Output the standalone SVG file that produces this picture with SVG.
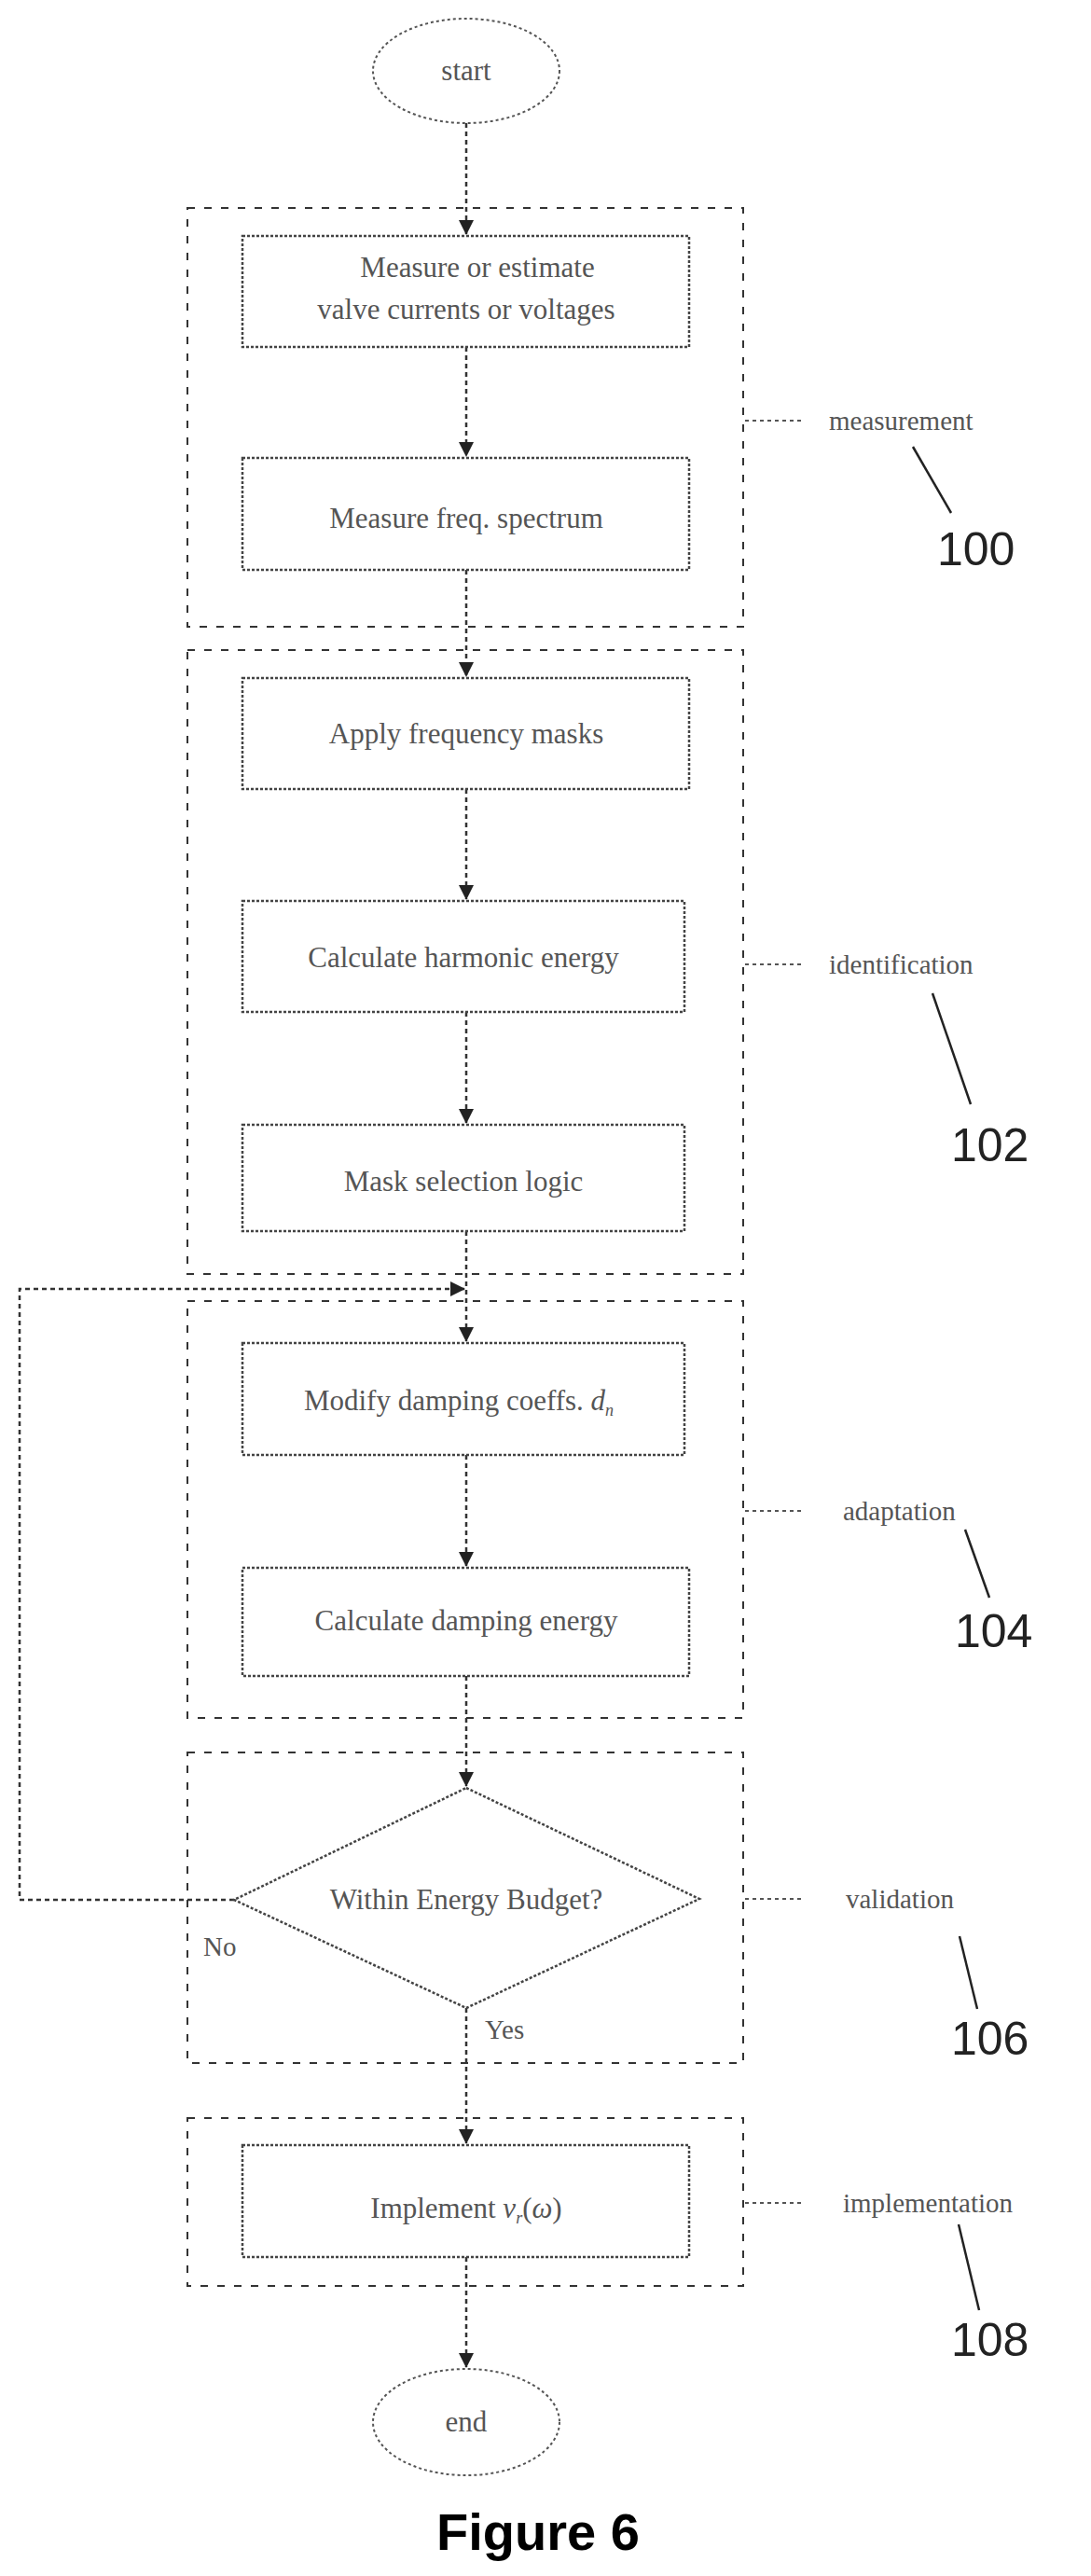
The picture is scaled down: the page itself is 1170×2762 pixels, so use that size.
<svg xmlns="http://www.w3.org/2000/svg" width="1170" height="2762" viewBox="0 0 1170 2762">
<style>
.grp{fill:none;stroke:#333;stroke-width:2;stroke-dasharray:8 10}
.box{fill:#fff;stroke:#444;stroke-width:2.5;stroke-dasharray:3 2}
.ell{fill:#fff;stroke:#555;stroke-width:2;stroke-dasharray:3 3}
.con{fill:none;stroke:#333;stroke-width:2.5;stroke-dasharray:5 4}
.t{font-family:"Liberation Serif",serif;font-size:31px;fill:#555;text-anchor:middle}
.lab{font-family:"Liberation Serif",serif;font-size:29px;fill:#555}
.num{font-family:"Liberation Sans",sans-serif;font-size:50px;fill:#222}
.lead{fill:none;stroke:#222;stroke-width:2.5}
.dot{fill:none;stroke:#555;stroke-width:2;stroke-dasharray:4 4}
</style>
<defs><marker id="ah" markerWidth="10" markerHeight="10" refX="9" refY="5" orient="auto" markerUnits="userSpaceOnUse"><path d="M0,0 L10,5 L0,10 z" fill="#222"/></marker>
<marker id="ahb" markerWidth="16" markerHeight="16" refX="15" refY="8" orient="auto" markerUnits="userSpaceOnUse"><path d="M0,0 L16,8 L0,16 z" fill="#222"/></marker></defs>
<g id="groups">
<rect class="grp" x="201" y="223" width="596" height="449"/>
<rect class="grp" x="201" y="697" width="596" height="669"/>
<rect class="grp" x="201" y="1395" width="596" height="447"/>
<rect class="grp" x="201" y="1879" width="596" height="333"/>
<rect class="grp" x="201" y="2271" width="596" height="180"/>
</g>
<g id="connectors">
<line class="con" x1="500" y1="132" x2="500" y2="251" marker-end="url(#ahb)"/>
<line class="con" x1="500" y1="372" x2="500" y2="489" marker-end="url(#ahb)"/>
<line class="con" x1="500" y1="611" x2="500" y2="725" marker-end="url(#ahb)"/>
<line class="con" x1="500" y1="846" x2="500" y2="964" marker-end="url(#ahb)"/>
<line class="con" x1="500" y1="1085" x2="500" y2="1204" marker-end="url(#ahb)"/>
<line class="con" x1="500" y1="1320" x2="500" y2="1438" marker-end="url(#ahb)"/>
<line class="con" x1="500" y1="1560" x2="500" y2="1679" marker-end="url(#ahb)"/>
<line class="con" x1="500" y1="1797" x2="500" y2="1915" marker-end="url(#ahb)"/>
<polyline class="con" points="251,2037 21,2037 21,1382 498,1382" marker-end="url(#ahb)"/>
<line class="con" x1="500" y1="2153" x2="500" y2="2298" marker-end="url(#ahb)"/>
<line class="con" x1="500" y1="2420" x2="500" y2="2538" marker-end="url(#ahb)"/>
<text class="lab" x="218" y="2097">No</text>
<text class="lab" x="520" y="2186">Yes</text>
</g>
<g id="start"><ellipse class="ell" cx="500" cy="76" rx="100" ry="56"/><text class="t" x="500" y="86">start</text></g>
<g id="n1"><rect class="box" x="260" y="253" width="479" height="119"/><text class="t" x="512" y="297">Measure or estimate</text><text class="t" x="500" y="342">valve currents or voltages</text></g>
<g id="n2"><rect class="box" x="260" y="491" width="479" height="120"/><text class="t" x="500" y="566">Measure freq. spectrum</text></g>
<g id="n3"><rect class="box" x="260" y="727" width="479" height="119"/><text class="t" x="500" y="797">Apply frequency masks</text></g>
<g id="n4"><rect class="box" x="260" y="966" width="474" height="119"/><text class="t" x="497" y="1037">Calculate harmonic energy</text></g>
<g id="n5"><rect class="box" x="260" y="1206" width="474" height="114"/><text class="t" x="497" y="1277">Mask selection logic</text></g>
<g id="n6"><rect class="box" x="260" y="1440" width="474" height="120"/><text class="t" x="492" y="1512">Modify damping coeffs. <tspan font-style="italic">d</tspan><tspan font-style="italic" font-size="18" dy="6">n</tspan></text></g>
<g id="n7"><rect class="box" x="260" y="1681" width="479" height="116"/><text class="t" x="500" y="1748">Calculate damping energy</text></g>
<g id="n8"><polygon class="box" points="500,1917 750,2036 500,2153 251,2037"/><text class="t" x="500" y="2047">Within Energy Budget?</text></g>
<g id="n9"><rect class="box" x="260" y="2300" width="479" height="120"/><text class="t" x="500" y="2378">Implement <tspan font-style="italic">v</tspan><tspan font-style="italic" font-size="18" dy="6">r</tspan><tspan dy="-6">(</tspan><tspan font-style="italic">ω</tspan>)</text></g>
<g id="end"><ellipse class="ell" cx="500" cy="2597" rx="100" ry="57"/><text class="t" x="500" y="2607">end</text></g>
<g id="labels">
<line class="dot" x1="799" y1="451" x2="859" y2="451"/><text class="lab" x="889" y="461">measurement</text>
<line class="lead" x1="979" y1="479" x2="1020" y2="550"/><text class="num" x="1005" y="606">100</text>
<line class="dot" x1="799" y1="1034" x2="859" y2="1034"/><text class="lab" x="889" y="1044">identification</text>
<line class="lead" x1="1000" y1="1065" x2="1041" y2="1184"/><text class="num" x="1020" y="1245">102</text>
<line class="dot" x1="799" y1="1620" x2="859" y2="1620"/><text class="lab" x="904" y="1630">adaptation</text>
<line class="lead" x1="1035" y1="1640" x2="1061" y2="1713"/><text class="num" x="1024" y="1766">104</text>
<line class="dot" x1="799" y1="2036" x2="859" y2="2036"/><text class="lab" x="907" y="2046">validation</text>
<line class="lead" x1="1029" y1="2076" x2="1048" y2="2154"/><text class="num" x="1020" y="2203">106</text>
<line class="dot" x1="799" y1="2362" x2="859" y2="2362"/><text class="lab" x="904" y="2372">implementation</text>
<line class="lead" x1="1028" y1="2385" x2="1050" y2="2477"/><text class="num" x="1020" y="2526">108</text>
<text x="577" y="2734" font-family="Liberation Sans,sans-serif" font-weight="bold" font-size="56" text-anchor="middle" fill="#000">Figure 6</text>
</g>
</svg>
